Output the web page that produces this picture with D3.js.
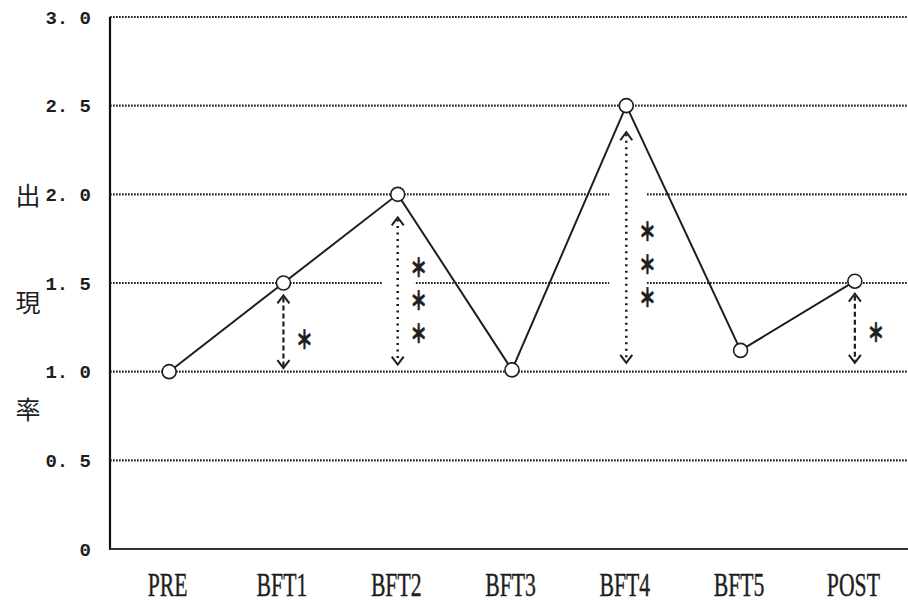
<!DOCTYPE html>
<html>
<head>
<meta charset="utf-8">
<script src="https://cdn.jsdelivr.net/npm/d3@7"></script>
<style>
  html, body { margin: 0; padding: 0; background: #fff; }
  svg { display: block; }
</style>
</head>
<body>
<svg id="chart" width="908" height="603"></svg>
<script>
// Occurrence rate per session
const categories = ["PRE", "BFT1", "BFT2", "BFT3", "BFT4", "BFT5", "POST"];
const rates = [1.0, 1.5, 2.0, 1.01, 2.5, 1.12, 1.51];
const yTicks = [0, 0.5, 1.0, 1.5, 2.0, 2.5, 3.0];
const axisTitle = ["出", "現", "率"];

// Significance arrows against the PRE level
const sigCats = ["BFT1", "BFT2", "BFT4", "POST"];
const sigTop = [1.43, 1.87, 2.35, 1.44];
const sigBottom = [1.02, 1.04, 1.05, 1.05];
const sigStars = [1, 3, 3, 1];
const sigStarAt = [1.18, 1.40, 1.60, 1.22];
const sigDotted = [false, true, true, false];

(function draw() {
  const svg = d3.select("#chart");
  const plotL = 110, plotR = 908, plotT = 17, plotB = 549;

  const x = d3.scalePoint().domain(categories).range([112, 912]).padding(0.5);
  const y = d3.scaleLinear().domain([0, 3]).range([plotB, plotT]);

  const ink = "#1e1e1e";

  // dotted grid lines
  svg.append("g").selectAll("line")
    .data(yTicks.filter(d => d > 0))
    .join("line")
    .attr("x1", plotL).attr("x2", plotR)
    .attr("y1", d => y(d)).attr("y2", d => y(d))
    .attr("stroke", "#262626")
    .attr("stroke-width", 2.2)
    .attr("stroke-dasharray", "1.7,1.3");

  // white label backgrounds that break the grid next to the stars
  const gaps = [
    { c: "BFT2", x0: -15, x1: 17, v0: 1.44, v1: 1.56 },
    { c: "BFT4", x0: -17, x1: 20, v0: 1.44, v1: 2.06 }
  ];
  svg.append("g").selectAll("rect")
    .data(gaps)
    .join("rect")
    .attr("x", d => x(d.c) + d.x0)
    .attr("width", d => d.x1 - d.x0)
    .attr("y", d => y(d.v1))
    .attr("height", d => y(d.v0) - y(d.v1))
    .attr("fill", "#fff");

  // axes frame
  svg.append("line")
    .attr("x1", plotL).attr("x2", plotL).attr("y1", plotT).attr("y2", plotB + 1)
    .attr("stroke", "#111").attr("stroke-width", 2.2);
  svg.append("line")
    .attr("x1", plotL).attr("x2", plotR).attr("y1", plotB).attr("y2", plotB)
    .attr("stroke", "#333").attr("stroke-width", 2);

  // y tick labels
  const yAxis = svg.append("g")
    .attr("transform", `translate(${plotL},0)`)
    .call(d3.axisLeft(y).tickValues(yTicks).tickSize(0).tickPadding(19)
      .tickFormat(d => d === 0 ? "0" : d.toFixed(1).replace(".", ". ")));
  yAxis.select(".domain").remove();
  yAxis.selectAll("text")
    .attr("font-family", "'Liberation Mono', 'DejaVu Sans Mono', monospace")
    .attr("font-weight", "bold")
    .attr("font-size", 19)
    .attr("fill", ink)
    .attr("dy", "0.33em")
    .style("white-space", "pre");

  // x tick labels (condensed serif)
  const xAxis = svg.append("g")
    .attr("transform", `translate(0,${plotB})`)
    .call(d3.axisBottom(x).tickSize(0).tickPadding(0));
  xAxis.select(".domain").remove();
  xAxis.selectAll("text")
    .attr("y", 0).attr("dy", 0)
    .attr("transform", "translate(-2,47) scale(0.7,1.12)")
    .attr("font-family", "'Liberation Serif', 'DejaVu Serif', serif")
    .attr("font-size", 31)
    .attr("fill", ink)
    .attr("stroke", ink)
    .attr("stroke-width", 0.4);

  // vertical axis title
  svg.append("g").selectAll("text")
    .data(axisTitle)
    .join("text")
    .attr("x", 28)
    .attr("y", (d, i) => 196 + i * 107)
    .attr("dy", "0.36em")
    .attr("text-anchor", "middle")
    .attr("font-family", "'Noto Sans CJK JP', sans-serif")
    .attr("font-size", 25)
    .attr("fill", ink)
    .text(d => d);

  // significance arrows
  const sig = sigCats.map((c, i) => ({
    c, hi: sigTop[i], lo: sigBottom[i], n: sigStars[i], at: sigStarAt[i], dotted: sigDotted[i]
  }));
  const sg = svg.append("g");
  sg.selectAll("line.shaft")
    .data(sig)
    .join("line")
    .attr("class", "shaft")
    .attr("x1", d => x(d.c)).attr("x2", d => x(d.c))
    .attr("y1", d => y(d.hi) + 2).attr("y2", d => y(d.lo) - 2)
    .attr("stroke", ink)
    .attr("stroke-width", d => d.dotted ? 2.6 : 2.2)
    .attr("stroke-dasharray", d => d.dotted ? "2,4.5" : "5,3");
  // open arrow heads
  const head = (cx, cy, dir) => `M${cx - 6},${cy + dir * 8}L${cx},${cy}L${cx + 6},${cy + dir * 8}`;
  sg.selectAll("path.head-top")
    .data(sig)
    .join("path")
    .attr("class", "head-top")
    .attr("d", d => head(x(d.c), y(d.hi), 1))
    .attr("fill", "none").attr("stroke", ink).attr("stroke-width", 2);
  sg.selectAll("path.head-bot")
    .data(sig)
    .join("path")
    .attr("class", "head-bot")
    .attr("d", d => head(x(d.c), y(d.lo), -1))
    .attr("fill", "none").attr("stroke", ink).attr("stroke-width", 2);

  // stars
  const starData = [];
  sig.forEach(d => {
    const mid = y(d.at);
    for (let k = 0; k < d.n; k++) {
      starData.push({ x: x(d.c) + 21, y: mid + (k - (d.n - 1) / 2) * 33 });
    }
  });
  sg.selectAll("text.star")
    .data(starData)
    .join("text")
    .attr("class", "star")
    .attr("transform", d => `translate(${d.x},${d.y}) scale(0.8,1.2)`)
    .attr("dy", "0.36em")
    .attr("text-anchor", "middle")
    .attr("font-family", "'Noto Sans CJK JP', sans-serif")
    .attr("font-weight", "900")
    .attr("font-size", 21)
    .attr("fill", ink)
    .attr("stroke", ink)
    .attr("stroke-width", 0.6)
    .text("＊");

  // rate line
  const pts = categories.map((c, i) => ({ c, v: rates[i] }));
  svg.append("path")
    .datum(pts)
    .attr("d", d3.line().x(d => x(d.c)).y(d => y(d.v)))
    .attr("fill", "none")
    .attr("stroke", ink)
    .attr("stroke-width", 2);

  svg.append("g").selectAll("circle")
    .data(pts)
    .join("circle")
    .attr("cx", d => x(d.c)).attr("cy", d => y(d.v))
    .attr("r", 7)
    .attr("fill", "#fff")
    .attr("stroke", ink)
    .attr("stroke-width", 1.6);
})();
</script>
</body>
</html>
